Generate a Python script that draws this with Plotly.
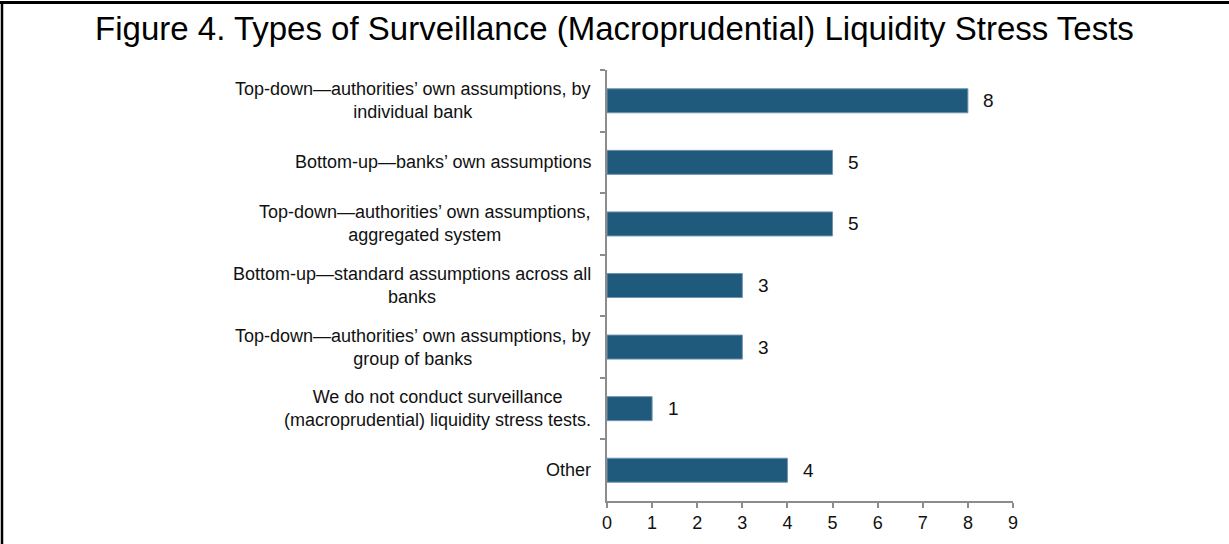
import plotly.graph_objects as go

categories = [
    "Top-down\u2014authorities\u2019 own assumptions, by<br>individual bank",
    "Bottom-up\u2014banks\u2019 own assumptions",
    "Top-down\u2014authorities\u2019 own assumptions,<br>aggregated system",
    "Bottom-up\u2014standard assumptions across all<br>banks",
    "Top-down\u2014authorities\u2019 own assumptions, by<br>group of banks",
    "We do not conduct surveillance<br>(macroprudential) liquidity stress tests.",
    "Other",
]
values = [8, 5, 5, 3, 3, 1, 4]
x_ticks = [0, 1, 2, 3, 4, 5, 6, 7, 8, 9]
title = "Figure 4. Types of Surveillance (Macroprudential) Liquidity Stress Tests"

FONT = "Liberation Sans, Arial, sans-serif"
AXIS = "#8c8c8c"

W, H = 1229, 544
L, R, T, B = 607, 216, 70, 43
pw, ph = W - L - R, H - T - B

fig = go.Figure()
fig.add_trace(go.Bar(
    x=values, y=categories, orientation="h",
    marker=dict(color="#1F5A7C", line=dict(color="#6F94AE", width=1)),
    width=0.39, hoverinfo="x+y",
))

ann = []
for c, v in zip(categories, values):
    ann.append(dict(x=0, y=c, xref="x", yref="y", text=c, showarrow=False,
                    xanchor="right", yanchor="middle", align="center", xshift=-14,
                    font=dict(family=FONT, size=18, color="#111")))
    ann.append(dict(x=v, y=c, xref="x", yref="y", text=str(v), showarrow=False,
                    xanchor="center", yanchor="middle", xshift=21,
                    font=dict(family=FONT, size=19, color="#111")))

px2x = lambda px: (px - L) / pw
py2y = lambda py: (H - B - py) / ph
shapes = [
    dict(type="line", xref="paper", yref="paper", x0=px2x(0), x1=px2x(W), y0=py2y(2.5), y1=py2y(2.5),
         line=dict(color="black", width=3)),
    dict(type="line", xref="paper", yref="paper", x0=px2x(2), x1=px2x(2), y0=py2y(1), y1=py2y(H),
         line=dict(color="black", width=2.5)),
]

fig.update_layout(
    width=W, height=H,
    margin=dict(l=L, r=R, t=T, b=B),
    paper_bgcolor="white", plot_bgcolor="white",
    showlegend=False,
    title=dict(text=title, x=0.5, xref="container", xanchor="center", y=1 - 28 / H, yanchor="middle",
               font=dict(family=FONT, size=33, color="#000")),
    annotations=ann, shapes=shapes,
    xaxis=dict(range=[0, 9], tickvals=x_ticks, showgrid=False, zeroline=False,
               showline=True, linecolor=AXIS, linewidth=1.5,
               ticks="outside", ticklen=5, tickcolor=AXIS, tickwidth=1.5,
               tickfont=dict(family=FONT, size=18, color="#111")),
    yaxis=dict(categoryorder="array", categoryarray=categories, autorange="reversed",
               showticklabels=False, showgrid=False, zeroline=False,
               showline=True, linecolor=AXIS, linewidth=1.5,
               ticks="outside", tickson="boundaries", ticklen=5, tickcolor=AXIS, tickwidth=1.5),
)

fig.write_html("out.html", config={"displayModeBar": False},
               post_script="document.body.style.margin='0';document.body.style.padding='0';document.body.style.overflow='hidden';")
